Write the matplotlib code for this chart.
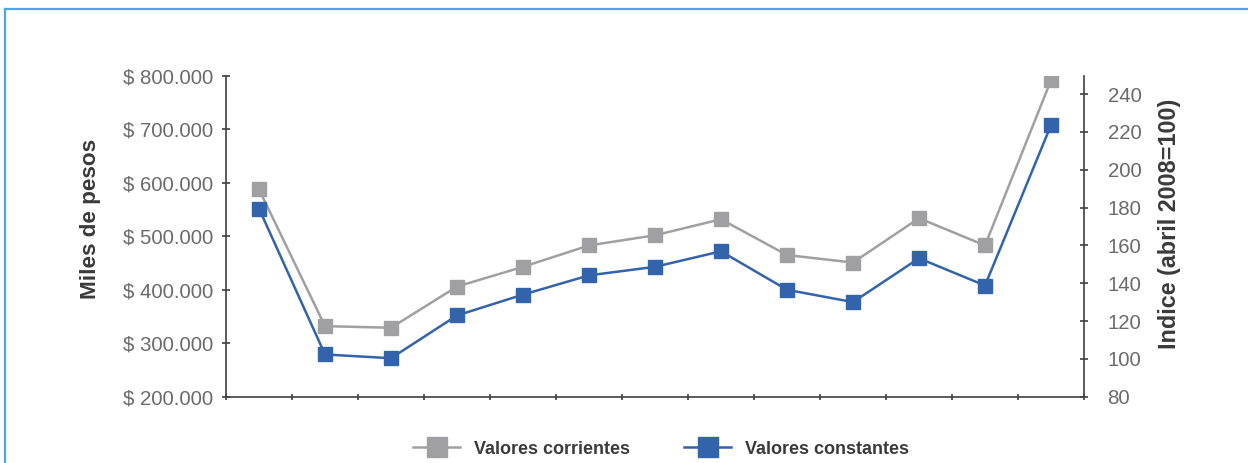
import matplotlib.pyplot as plt
from matplotlib.lines import Line2D
from matplotlib.ticker import FuncFormatter

# ---- data (miles de pesos) ----
periodos = list(range(1, 14))
corrientes = [588, 332, 329, 406, 443, 483, 502, 532, 465, 451, 534, 483, 792]
constantes = [552, 279, 272, 352, 391, 427, 443, 472, 400, 377, 459, 408, 708]
indice_ticks = [80, 100, 120, 140, 160, 180, 200, 220, 240]

GRIS = '#a0a0a2'
AZUL = '#3263ab'
EJE = '#404040'
TXT = '#6b6b6b'
TIT = '#3a3a3a'

plt.rcParams['font.family'] = ['Liberation Sans', 'DejaVu Sans']

fig = plt.figure(figsize=(12.48, 4.63), dpi=100)
ax = fig.add_axes([226/1248, 1-396.7/463, (1084-226)/1248, (396.7-76)/463])

ax.plot(periodos, corrientes, color=GRIS, lw=1.8, marker='s', ms=9.5,
        label='Valores corrientes')
ax.plot(periodos, constantes, color=AZUL, lw=1.8, marker='s', ms=9.5,
        label='Valores constantes')

ax.set_xlim(0.5, 13.5)
ax.set_ylim(200, 800)
ax.set_yticks(range(200, 801, 100))
ax.yaxis.set_major_formatter(FuncFormatter(lambda v, p: '$ %d.000' % v))
ax.set_xticks([i + 0.5 for i in range(0, 14)])
ax.set_xticklabels([])

for s in ['top', 'right']:
    ax.spines[s].set_visible(False)
for s in ['left', 'bottom']:
    ax.spines[s].set_color(EJE)
    ax.spines[s].set_linewidth(1.2)
ax.tick_params(axis='y', direction='inout', length=6, width=1.2, color=EJE,
               labelsize=14.7, labelcolor=TXT, pad=6)
ax.tick_params(axis='x', direction='inout', length=5, width=1.2, color=EJE)
ax.set_ylabel('Miles de pesos', fontsize=16.2, fontweight='bold', color=TIT)
ax.yaxis.set_label_coords(101/1248, 1-219/463, transform=fig.transFigure)

# eje derecho: indice
ax2 = ax.twinx()
ax2.set_ylim(80, 80 + 600 * 160 / 302.7 * 0.5345)
ax2.set_yticks(indice_ticks)
for s in ['top', 'left', 'bottom']:
    ax2.spines[s].set_visible(False)
ax2.spines['right'].set_color(EJE)
ax2.spines['right'].set_linewidth(1.2)
ax2.tick_params(axis='y', direction='inout', length=6, width=1.2, color=EJE,
                labelsize=14.7, labelcolor=TXT, pad=14)
ax2.set_ylabel('Indice (abril 2008=100)', fontsize=16.8, fontweight='bold',
               color=TIT)
ax2.yaxis.set_label_coords(1158/1248, 1-224/463, transform=fig.transFigure)

leg = ax.legend(loc='center', bbox_to_anchor=(661/1248, 1-449/463),
                bbox_transform=fig.transFigure, ncol=2, frameon=False,
                fontsize=13, markerscale=1.45, handlelength=2.6,
                columnspacing=3.0, handletextpad=0.75)
for t in leg.get_texts():
    t.set_fontweight('bold')
    t.set_color(TIT)

# marco azul
fig.add_artist(Line2D([4.5/1248, 4.5/1248], [0, 1-9/463], color='#4aa8e0',
                      lw=1.6, transform=fig.transFigure))
fig.add_artist(Line2D([4.5/1248, 1], [1-9/463, 1-9/463], color='#4aa8e0',
                      lw=1.6, transform=fig.transFigure))

plt.savefig('out.png', dpi=100)
